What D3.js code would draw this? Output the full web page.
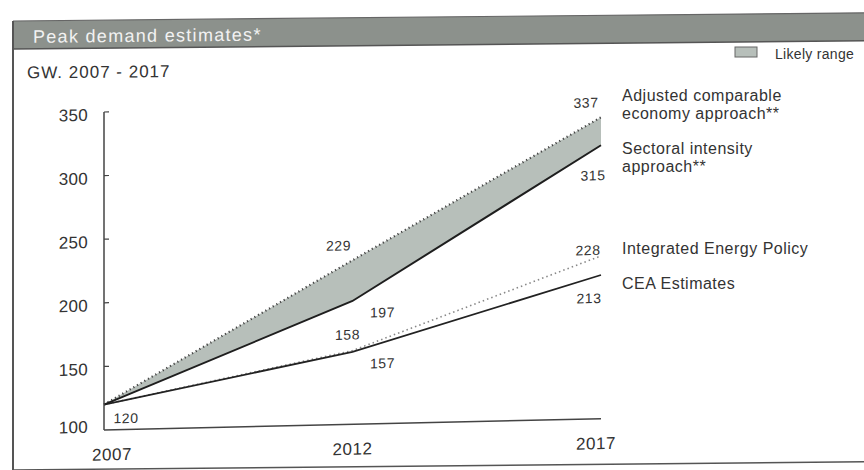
<!DOCTYPE html>
<html>
<head>
<meta charset="utf-8">
<script src="https://cdn.jsdelivr.net/npm/d3@7"></script>
<style>
  body { margin: 0; background: #fff; }
  svg { display: block; }
  text { font-family: "Liberation Sans", Arial, Helvetica, sans-serif; fill: #333; }
</style>
</head>
<body>
<svg id="chart" width="864" height="470"></svg>
<script>
// Peak demand estimates, GW, 2007-2017
const years = [2007, 2012, 2017];
const adjustedComparable = [120, 229, 337];   // upper edge of the likely range
const sectoralIntensity = [120, 197, 315];    // lower edge of the likely range
const integratedEnergyPolicy = [120, 158, 228];
const ceaEstimates = [120, 157, 213];
const yTickValues = [100, 150, 200, 250, 300, 350];
const xTickLabels = ["2007", "2012", "2017"];
const titleText = "Peak demand estimates*";
const subtitleText = "GW. 2007 - 2017";
const legendText = "Likely range";
const seriesLabels = [
  ["Adjusted comparable", "economy approach**"],
  ["Sectoral intensity", "approach**"],
  ["Integrated Energy Policy"],
  ["CEA Estimates"]
];

const svg = d3.select("#chart");

// ---- frame and header band ----
const frame = svg.append("g")
  .attr("transform", "translate(13,0) skewY(-0.55) translate(-13,0)");

frame.append("rect")
  .attr("x", 13).attr("y", 21).attr("width", 870).attr("height", 28)
  .attr("fill", "#8c918c");
frame.append("line")
  .attr("x1", 13).attr("x2", 883).attr("y1", 21).attr("y2", 21)
  .attr("stroke", "#666").attr("stroke-width", 1.2);
frame.append("line")
  .attr("x1", 13).attr("x2", 883).attr("y1", 49).attr("y2", 49)
  .attr("stroke", "#555").attr("stroke-width", 1.5);
frame.append("line")
  .attr("x1", 13).attr("x2", 13).attr("y1", 21).attr("y2", 480)
  .attr("stroke", "#555").attr("stroke-width", 2);
frame.append("line")
  .attr("x1", 13).attr("x2", 883).attr("y1", 470).attr("y2", 470)
  .attr("stroke", "#555").attr("stroke-width", 1.5);

frame.append("text")
  .attr("x", 33).attr("y", 37)
  .attr("dominant-baseline", "central")
  .style("font-size", "18px").style("letter-spacing", "1.3px")
  .style("fill", "#f2f2f2")
  .text(titleText);

frame.append("text")
  .attr("x", 27).attr("y", 73)
  .attr("dominant-baseline", "central")
  .style("font-size", "17px").style("letter-spacing", "1px")
  .text(subtitleText);

// legend for the shaded band
svg.append("rect")
  .attr("x", 735).attr("y", 47).attr("width", 22).attr("height", 10)
  .attr("fill", "#b7bfba").attr("stroke", "#666").attr("stroke-width", 1);
svg.append("text")
  .attr("x", 775).attr("y", 54)
  .attr("dominant-baseline", "central")
  .style("font-size", "14px").style("letter-spacing", "0.3px")
  .text(legendText);

// ---- plot ----
const x = d3.scaleLinear().domain([2007, 2017]).range([104, 601]);
const y = d3.scaleLinear().domain([100, 350]).range([430, 112]);

const plot = svg.append("g")
  .attr("transform", "translate(104,0) skewY(-1.3) translate(-104,0)");

// shaded likely range between the two approaches
const rangeData = years.map((yr, i) => ({ yr, lo: sectoralIntensity[i], hi: adjustedComparable[i] }));
plot.append("path")
  .datum(rangeData)
  .attr("fill", "#b7bfba")
  .attr("d", d3.area().x(d => x(d.yr)).y0(d => y(d.lo)).y1(d => y(d.hi)));

const line = d3.line().x(d => x(d[0])).y(d => y(d[1]));
const pairs = vals => years.map((yr, i) => [yr, vals[i]]);

// Integrated Energy Policy (dotted), drawn under the CEA line
plot.append("path")
  .datum(pairs(integratedEnergyPolicy))
  .attr("fill", "none").attr("stroke", "#888").attr("stroke-width", 1.6)
  .attr("stroke-dasharray", "1.5,3")
  .attr("d", line);

// CEA estimates
plot.append("path")
  .datum(pairs(ceaEstimates))
  .attr("fill", "none").attr("stroke", "#222").attr("stroke-width", 1.8)
  .attr("d", line);

// Adjusted comparable economy approach (dotted upper edge)
plot.append("path")
  .datum(pairs(adjustedComparable))
  .attr("fill", "none").attr("stroke", "#444").attr("stroke-width", 2.2)
  .attr("stroke-dasharray", "1.2,3")
  .attr("d", line);

// Sectoral intensity approach (solid lower edge)
plot.append("path")
  .datum(pairs(sectoralIntensity))
  .attr("fill", "none").attr("stroke", "#1e1e1e").attr("stroke-width", 2)
  .attr("d", line);

// axes
plot.append("line")
  .attr("x1", x(2007)).attr("x2", x(2007)).attr("y1", y(350)).attr("y2", y(100))
  .attr("stroke", "#444").attr("stroke-width", 1.5);
plot.append("line")
  .attr("x1", x(2007)).attr("x2", x(2017)).attr("y1", y(100)).attr("y2", y(100))
  .attr("stroke", "#444").attr("stroke-width", 1.5);

plot.selectAll(".ytick")
  .data(yTickValues.filter(v => v !== 100))
  .join("line")
  .attr("class", "ytick")
  .attr("x1", x(2007)).attr("x2", x(2007) + 5)
  .attr("y1", d => y(d)).attr("y2", d => y(d))
  .attr("stroke", "#444").attr("stroke-width", 1.2);

plot.selectAll(".ylabel")
  .data(yTickValues)
  .join("text")
  .attr("class", "ylabel")
  .attr("x", 88)
  .attr("y", d => y(d) + (d === 100 ? -3 : 3))
  .attr("text-anchor", "end")
  .attr("dominant-baseline", "central")
  .style("font-size", "17px").style("letter-spacing", "0.3px")
  .text(d => d);

plot.selectAll(".xlabel")
  .data(years)
  .join("text")
  .attr("class", "xlabel")
  .attr("x", (d, i) => x(d) + (i === 0 ? 8 : i === 2 ? -5 : 0))
  .attr("y", 455)
  .attr("text-anchor", "middle")
  .attr("dominant-baseline", "central")
  .style("font-size", "17px").style("letter-spacing", "0.6px")
  .text((d, i) => xTickLabels[i]);

// value labels next to the points they describe
const valueLabels = [
  { vals: adjustedComparable, i: 0, dx: 22, dy: 14 },
  { vals: adjustedComparable, i: 1, dx: -14, dy: -15 },
  { vals: adjustedComparable, i: 2, dx: -15, dy: -15 },
  { vals: sectoralIntensity, i: 1, dx: 30, dy: 12 },
  { vals: sectoralIntensity, i: 2, dx: -8, dy: 30 },
  { vals: integratedEnergyPolicy, i: 1, dx: -5, dy: -16 },
  { vals: integratedEnergyPolicy, i: 2, dx: -13, dy: -6 },
  { vals: ceaEstimates, i: 1, dx: 30, dy: 12 },
  { vals: ceaEstimates, i: 2, dx: -12, dy: 23 }
];
plot.selectAll(".vlabel")
  .data(valueLabels)
  .join("text")
  .attr("class", "vlabel")
  .attr("x", d => x(years[d.i]) + d.dx)
  .attr("y", d => y(d.vals[d.i]) + d.dy)
  .attr("text-anchor", "middle")
  .attr("dominant-baseline", "central")
  .style("font-size", "14px").style("letter-spacing", "0.6px")
  .text(d => d.vals[d.i]);

// series names at the right end of the lines
const labelTops = [95, 148, 248, 283];
seriesLabels.forEach((lines, k) => {
  lines.forEach((t, j) => {
    svg.append("text")
      .attr("x", 622)
      .attr("y", labelTops[k] + j * 18)
      .attr("dominant-baseline", "central")
      .style("font-size", "16px").style("letter-spacing", "0.5px")
      .text(t);
  });
});
</script>
</body>
</html>
